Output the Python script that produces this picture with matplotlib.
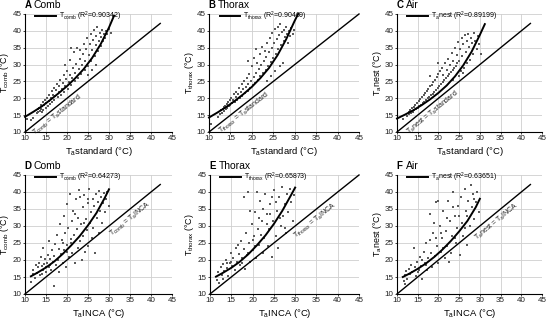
import matplotlib
matplotlib.use('Agg')
import matplotlib.pyplot as plt

plt.rcParams['font.family'] = ['Liberation Sans', 'DejaVu Sans']
plt.rcParams['mathtext.default'] = 'regular'

# ---------------- data ----------------
letters = ['A', 'B', 'C', 'D', 'E', 'F']
titles = ['Comb', 'Thorax', 'Air', 'Comb', 'Thorax', 'Air']
ylabels = ['$T_{comb}$ (°C)', '$T_{thorax}$ (°C)', '$T_{a}$nest (°C)',
           '$T_{comb}$ (°C)', '$T_{thorax}$ (°C)', '$T_{a}$nest (°C)']
xlabels = ['$T_{a}$standard (°C)'] * 3 + ['$T_{a}$INCA (°C)'] * 3
legend_labels = ['$T_{comb}$ (R$^{2}$=0.90342)', '$T_{thorax}$ (R$^{2}$=0.90469)',
                 '$T_{a}$nest (R$^{2}$=0.89199)', '$T_{comb}$ (R$^{2}$=0.64273)',
                 '$T_{thorax}$ (R$^{2}$=0.65873)', '$T_{a}$nest (R$^{2}$=0.63651)']
identity_labels = ['$T_{comb}$ = $T_{a}$standard', '$T_{thorax}$ = $T_{a}$standard',
                   '$T_{a}$nest = $T_{a}$standard', '$T_{comb}$ = $T_{a}$INCA',
                   '$T_{thorax}$ = $T_{a}$INCA', '$T_{a}$nest = $T_{a}$INCA']
ticks = [10, 15, 20, 25, 30, 35, 40, 45]

identity_end = [42.2, 45, 42.2, 42.2, 45, 42.2]

fit_A_x = [10, 12, 14, 16, 18, 20, 22, 24, 26, 28, 30, 31.2]
fit_A_y = [14.5, 16.0, 17.6, 19.5, 21.5, 23.6, 26.0, 28.7, 32.0, 36.0, 41.0, 44.5]
fit_B_x = [10, 12, 14, 16, 18, 20, 22, 24, 26, 28, 30, 30.8]
fit_B_y = [14.3, 15.8, 17.4, 19.2, 21.2, 23.4, 26.0, 29.0, 32.8, 37.5, 43.0, 45.0]
fit_C_x = [10, 12, 14, 16, 18, 20, 22, 24, 26, 28, 30, 31.2]
fit_C_y = [14.0, 15.2, 16.5, 18.0, 19.7, 21.6, 23.8, 26.5, 29.8, 33.8, 38.8, 42.0]
fit_D_x = [11.4, 13, 15, 17, 19, 21, 23, 25, 27, 29, 30]
fit_D_y = [15.2, 16.3, 17.8, 19.6, 21.8, 24.3, 27.0, 30.2, 33.8, 38.3, 40.8]
fit_E_x = [11.4, 13, 15, 17, 19, 21, 23, 25, 27, 29, 30]
fit_E_y = [15.1, 16.2, 17.7, 19.5, 21.7, 24.3, 27.2, 30.6, 34.5, 39.0, 41.3]
fit_F_x = [11.4, 13, 15, 17, 19, 21, 23, 25, 27, 29, 30]
fit_F_y = [15.0, 16.0, 17.4, 19.0, 20.9, 23.1, 25.6, 28.4, 31.5, 35.5, 38.0]

pts_A = [(10.5,14.0),(11.5,13.5),(12.0,14.2),(12.8,15.5),(13.0,16.8),(13.2,15.9),(13.4,17.2),(13.5,16.3),(13.7,18.0),(13.8,16.9),
         (14.0,15.8),(14.1,17.6),(14.3,18.8),(14.4,16.5),(14.6,17.9),(14.8,19.4),(15.0,17.2),(15.1,18.6),(15.3,20.1),(15.5,17.8),
         (15.6,19.3),(15.8,21.0),(16.0,18.4),(16.2,20.2),(16.4,22.3),(16.5,19.0),(16.7,21.1),(16.9,23.0),(17.0,19.6),(17.2,20.8),
         (17.4,22.5),(17.6,24.1),(17.8,20.3),(18.0,21.9),(18.2,23.6),(18.4,25.3),(18.6,21.0),(18.8,22.8),(19.0,24.5),(19.2,26.8),
         (19.4,22.0),(19.6,23.7),(19.8,25.6),(20.0,28.2),(20.2,22.9),(20.4,24.8),(20.6,27.0),(20.8,31.5),(21.0,23.8),(21.2,26.1),
         (21.4,29.0),(21.6,33.8),(21.8,25.0),(22.0,27.4),(22.2,30.3),(22.4,35.0),(22.6,26.0),(22.8,28.7),(23.0,31.6),(23.2,34.2),
         (23.4,27.2),(23.6,29.9),(23.8,33.0),(24.0,36.1),(24.2,28.5),(24.4,31.2),(24.6,34.6),(24.8,37.8),(25.0,29.6),(25.2,32.8),
         (25.4,36.0),(25.6,39.0),(25.8,31.0),(26.0,34.2),(26.2,37.4),(26.4,40.2),(26.6,32.5),(26.8,35.7),(27.0,38.6),(27.2,41.0),
         (27.4,34.0),(27.6,37.0),(27.8,39.5),(28.0,35.5),(28.2,38.3),(28.4,40.4),(28.6,37.0),(28.8,39.2),(29.0,38.0),(29.3,40.0),
         (29.6,39.0),(30.0,40.5),(30.5,39.5),(21.0,35.0),(19.5,30.0),(26.0,28.5),(25.0,27.0),(27.0,30.0)]
pts_B = [(10.5,12.5),(12.0,14.5),(12.6,15.2),(12.9,16.4),(13.1,15.6),(13.3,16.9),(13.5,17.5),(13.6,16.2),(13.8,17.8),(14.0,16.7),
         (14.2,18.3),(14.3,17.1),(14.5,18.9),(14.7,17.6),(14.9,19.5),(15.0,18.0),(15.2,20.2),(15.4,18.5),(15.6,19.6),(15.8,21.2),
         (16.0,18.9),(16.2,20.4),(16.4,22.0),(16.6,19.5),(16.8,21.3),(17.0,23.1),(17.2,20.2),(17.4,22.0),(17.6,24.2),(17.8,20.8),
         (18.0,22.7),(18.2,25.0),(18.4,21.5),(18.6,23.4),(18.8,26.0),(19.0,22.3),(19.2,24.3),(19.4,27.2),(19.6,23.0),(19.8,25.2),
         (20.0,29.5),(20.2,23.8),(20.4,26.3),(20.6,32.0),(20.8,24.6),(21.0,27.5),(21.2,30.5),(21.4,25.5),(21.6,28.6),(21.8,33.0),
         (22.0,26.5),(22.2,29.8),(22.4,35.2),(22.6,27.5),(22.8,31.0),(23.0,34.0),(23.2,28.5),(23.4,32.3),(23.6,36.5),(23.8,29.6),
         (24.0,33.6),(24.2,38.0),(24.4,30.8),(24.6,35.0),(24.8,39.5),(25.0,32.0),(25.2,36.3),(25.4,40.5),(25.6,33.2),(25.8,37.6),
         (26.0,41.2),(26.2,34.5),(26.4,38.8),(26.6,42.0),(26.8,35.8),(27.0,39.6),(27.2,30.5),(27.4,37.0),(27.6,40.3),(27.8,38.2),
         (28.0,41.0),(28.2,39.0),(28.4,36.5),(28.6,40.0),(28.9,38.5),(29.2,40.8),(29.5,39.2),(29.8,40.2),(24.5,26.5),(25.5,28.0),
         (26.5,29.5),(23.5,25.0),(19.0,31.0),(21.0,34.5)]
pts_C = [(11.5,14.0),(12.5,14.8),(12.8,15.8),(13.0,15.2),(13.2,16.4),(13.4,15.6),(13.6,17.0),(13.8,16.0),(14.0,17.5),(14.2,16.4),
         (14.4,18.0),(14.6,16.8),(14.8,18.6),(15.0,17.2),(15.2,19.2),(15.4,17.6),(15.6,19.8),(15.8,18.1),(16.0,20.4),(16.2,18.6),
         (16.4,21.0),(16.6,19.0),(16.8,21.6),(17.0,19.5),(17.2,22.2),(17.4,20.0),(17.6,22.8),(17.8,20.5),(18.0,23.5),(18.2,20.9),
         (18.4,24.0),(18.6,21.4),(18.8,24.8),(19.0,22.0),(19.2,25.5),(19.4,22.5),(19.6,26.3),(19.8,23.0),(20.0,27.2),(20.2,23.6),
         (20.4,28.0),(20.6,24.2),(20.8,29.0),(21.0,24.8),(21.2,27.0),(21.4,25.4),(21.6,30.5),(21.8,26.0),(22.0,28.4),(22.2,26.6),
         (22.4,31.8),(22.6,27.2),(22.8,29.8),(23.0,27.8),(23.2,33.5),(23.4,28.4),(23.6,31.2),(23.8,29.0),(24.0,35.0),(24.2,29.7),
         (24.4,32.8),(24.6,30.4),(24.8,36.8),(25.0,31.0),(25.2,34.5),(25.4,28.0),(25.6,38.0),(25.8,32.5),(26.0,36.0),(26.2,29.0),
         (26.4,38.8),(26.6,33.8),(26.8,37.0),(27.0,30.5),(27.2,39.0),(27.4,35.2),(27.6,31.5),(27.8,38.0),(28.0,36.5),(28.3,33.0),
         (28.6,39.5),(28.9,37.0),(29.2,34.5),(29.5,38.5),(29.8,36.0),(30.2,33.0),(25.0,26.5),(26.0,27.5),(23.5,25.5),(18.0,26.5),
         (20.0,30.5)]
pts_D = [(11.5,13.5),(11.8,15.8),(12.0,17.2),(12.3,14.6),(12.6,18.5),(12.8,16.2),(13.2,17.8),(13.4,19.2),(13.6,15.5),(13.8,21.0),
         (14.0,18.2),(14.2,17.0),(14.4,23.5),(14.6,18.8),(14.8,20.2),(15.0,16.5),(15.2,19.0),(15.4,21.6),(15.6,18.0),(15.8,25.5),
         (16.0,20.4),(16.2,17.2),(16.4,22.8),(16.6,19.5),(16.8,12.5),(17.0,21.2),(17.2,24.6),(17.4,18.5),(17.6,27.5),(17.8,20.0),
         (18.0,23.2),(18.2,16.5),(18.4,30.5),(18.6,21.8),(18.8,25.8),(19.0,19.0),(19.2,33.0),(19.4,23.0),(19.6,27.8),(19.8,17.8),
         (20.0,36.5),(20.1,24.5),(20.3,29.5),(20.5,20.8),(20.7,39.5),(20.9,26.2),(21.1,31.5),(21.3,22.0),(21.5,34.5),(21.7,27.5),
         (21.9,19.0),(22.1,37.8),(22.3,29.0),(22.5,23.5),(22.7,32.5),(22.9,40.5),(23.1,25.5),(23.3,30.5),(23.5,20.0),(23.7,35.5),
         (23.9,27.0),(24.1,39.0),(24.3,22.5),(24.5,32.0),(24.7,28.8),(24.9,36.8),(25.1,24.0),(25.3,40.8),(25.5,31.0),(25.7,34.0),
         (25.9,26.5),(26.1,38.0),(26.3,29.5),(26.5,36.0),(26.7,22.0),(26.9,39.5),(27.1,32.5),(27.3,37.2),(27.5,28.0),(27.7,40.2),
         (27.9,34.5),(28.1,38.5),(28.3,31.0),(28.5,36.8),(28.7,39.8),(29.0,34.0),(29.3,38.0),(29.6,40.0),(29.9,36.0),(19.0,25.0),
         (20.0,22.5),(21.0,25.0),(16.0,18.5),(15.0,18.0),(14.0,16.0),(22.0,33.5),(24.0,31.0),(25.0,37.8),(23.0,38.5)]
pts_E = [(11.6,14.2),(11.9,16.5),(12.2,13.2),(12.5,17.8),(12.8,15.6),(13.1,18.8),(13.4,16.8),(13.7,20.0),(14.0,17.6),(14.3,15.2),
         (14.6,19.2),(14.9,22.0),(15.2,18.2),(15.5,20.6),(15.8,17.0),(16.1,23.5),(16.4,19.5),(16.7,21.8),(17.0,18.4),(17.3,25.5),
         (17.6,20.5),(17.9,23.2),(18.2,17.5),(18.5,28.0),(18.8,21.5),(19.0,40.0),(19.2,25.0),(19.5,19.5),(19.8,30.5),(20.0,22.8),
         (20.3,27.0),(20.6,34.0),(20.9,20.5),(21.2,29.0),(21.5,24.5),(21.8,37.5),(22.1,31.5),(22.4,22.0),(22.7,26.5),(23.0,39.5),
         (23.3,33.5),(23.6,24.0),(23.9,29.0),(24.2,36.5),(24.5,21.0),(24.8,31.5),(25.1,40.5),(25.4,27.0),(25.7,34.5),(26.0,23.5),
         (26.3,38.5),(26.6,30.0),(26.9,41.5),(27.2,33.0),(27.5,36.5),(27.8,28.0),(28.1,39.5),(28.4,34.0),(28.7,41.0),(29.0,37.0),
         (29.4,31.5),(29.8,39.0),(18.0,38.5),(16.5,24.5),(19.5,34.5),(21.0,40.0),(22.5,35.0),(24.0,33.5),(25.5,37.0),(20.5,24.0),
         (15.0,19.5),(17.5,19.0),(22.0,27.5),(23.5,30.5),(26.5,32.5),(27.5,29.5),(14.0,19.0),(13.0,14.5),(24.5,38.5),(21.5,32.5),
         (19.0,22.0),(20.0,26.0)]
pts_F = [(11.6,13.8),(11.9,15.5),(12.2,16.8),(12.5,14.5),(12.8,17.5),(13.1,15.8),(13.4,18.5),(13.7,16.5),(14.0,23.5),(14.3,17.8),
         (14.6,15.2),(14.9,19.5),(15.2,17.0),(15.5,21.0),(15.8,18.2),(16.1,14.5),(16.4,22.5),(16.7,19.0),(17.0,25.0),(17.3,17.2),
         (17.6,20.5),(17.9,33.5),(18.2,22.0),(18.5,18.0),(18.8,28.0),(19.1,21.2),(19.4,37.0),(19.7,24.0),(20.0,19.0),(20.3,30.0),
         (20.6,22.5),(20.9,26.5),(21.2,34.5),(21.5,20.5),(21.8,28.5),(22.1,24.0),(22.4,37.5),(22.7,31.5),(23.0,22.0),(23.3,27.0),
         (23.6,40.0),(23.9,33.0),(24.2,25.0),(24.5,29.5),(24.8,36.0),(25.1,21.5),(25.4,38.5),(25.7,31.0),(26.0,27.0),(26.3,41.0),
         (26.6,34.5),(26.9,24.5),(27.2,37.5),(27.5,30.0),(27.8,42.0),(28.1,35.5),(28.4,39.5),(28.7,32.0),(29.0,37.0),(29.4,40.0),
         (29.8,34.0),(16.0,20.0),(18.0,26.0),(19.0,31.0),(20.5,28.0),(22.0,32.5),(23.5,35.5),(25.0,33.0),(26.5,29.5),(15.0,16.5),
         (17.0,18.5),(21.0,23.5),(24.0,26.5),(27.0,33.0),(13.0,16.0),(12.0,13.0),(20.0,37.5),(22.5,19.5),(19.5,26.5),(28.5,38.0)]

points = [pts_A, pts_B, pts_C, pts_D, pts_E, pts_F]
fits = [(fit_A_x, fit_A_y), (fit_B_x, fit_B_y), (fit_C_x, fit_C_y),
        (fit_D_x, fit_D_y), (fit_E_x, fit_E_y), (fit_F_x, fit_F_y)]
# centre of identity-line label (data coords)
label_pos = [(17.8, 15.0), (18.3, 15.6), (18.6, 15.8), (35.2, 32.0), (34.8, 31.6), (34.0, 31.3)]

# ---------------- layout (pixel boxes: left, top, right, bottom) ----------------
W, H = 550, 320
boxes = [(25, 14, 172, 132), (209, 14, 359, 132), (397, 14, 542, 132),
         (25, 175, 172, 294), (210, 175, 359, 294), (397, 175, 542, 294)]

fig = plt.figure(figsize=(W / 100, H / 100), dpi=100)

for i in range(6):
    l, t, r, b = boxes[i]
    aw, ah = r - l, b - t
    ax = fig.add_axes([l / W, 1 - b / H, aw / W, ah / H])
    ax.set_xlim(10, 45)
    ax.set_ylim(10, 45)
    ax.set_xticks(ticks)
    ax.set_yticks(ticks)
    ax.grid(True, color='#cfcfcf', linewidth=0.6)
    ax.set_axisbelow(True)
    for s in ['top', 'right']:
        ax.spines[s].set_visible(False)
    for s in ['left', 'bottom']:
        ax.spines[s].set_linewidth(0.8)
    ax.tick_params(labelsize=5.8, length=1.5, width=0.6, pad=1.0, colors='#222222')

    xs = [p[0] for p in points[i]]
    ys = [p[1] for p in points[i]]
    ax.scatter(xs, ys, s=1.0, marker='s', c='#5a5a5a', linewidths=0, zorder=2)

    e = identity_end[i]
    ax.plot([10, e], [10, e], color='black', linewidth=1.0, zorder=3, clip_on=False)
    fx, fy = fits[i]
    line, = ax.plot(fx, fy, color='black', linewidth=1.4, zorder=4, clip_on=False,
                    label=legend_labels[i])

    lx, ly = label_pos[i]
    ax.text(lx, ly, identity_labels[i], fontsize=5, rotation=45,
            transform_rotates_text=True, rotation_mode='anchor',
            ha='center', va='center', color='#222222')

    ax.legend(handles=[line], loc='upper left', bbox_to_anchor=(0.07, 1.035),
              frameon=False, fontsize=5, handlelength=3.0, handletextpad=0.4,
              borderpad=0, borderaxespad=0)

    ax.set_xlabel(xlabels[i], fontsize=6.8)
    ax.set_ylabel(ylabels[i], fontsize=6.4)
    ax.xaxis.set_label_coords(0.5, -13.0 / ah)
    ax.yaxis.set_label_coords(-13.5 / aw, 0.5)

    ax.text(-0.005, 1.035, letters[i], transform=ax.transAxes, fontsize=7,
            fontweight='bold', ha='left', va='bottom')
    ax.text(0.06, 1.035, titles[i], transform=ax.transAxes, fontsize=7.5,
            ha='left', va='bottom')

fig.savefig('out.png', dpi=100)
